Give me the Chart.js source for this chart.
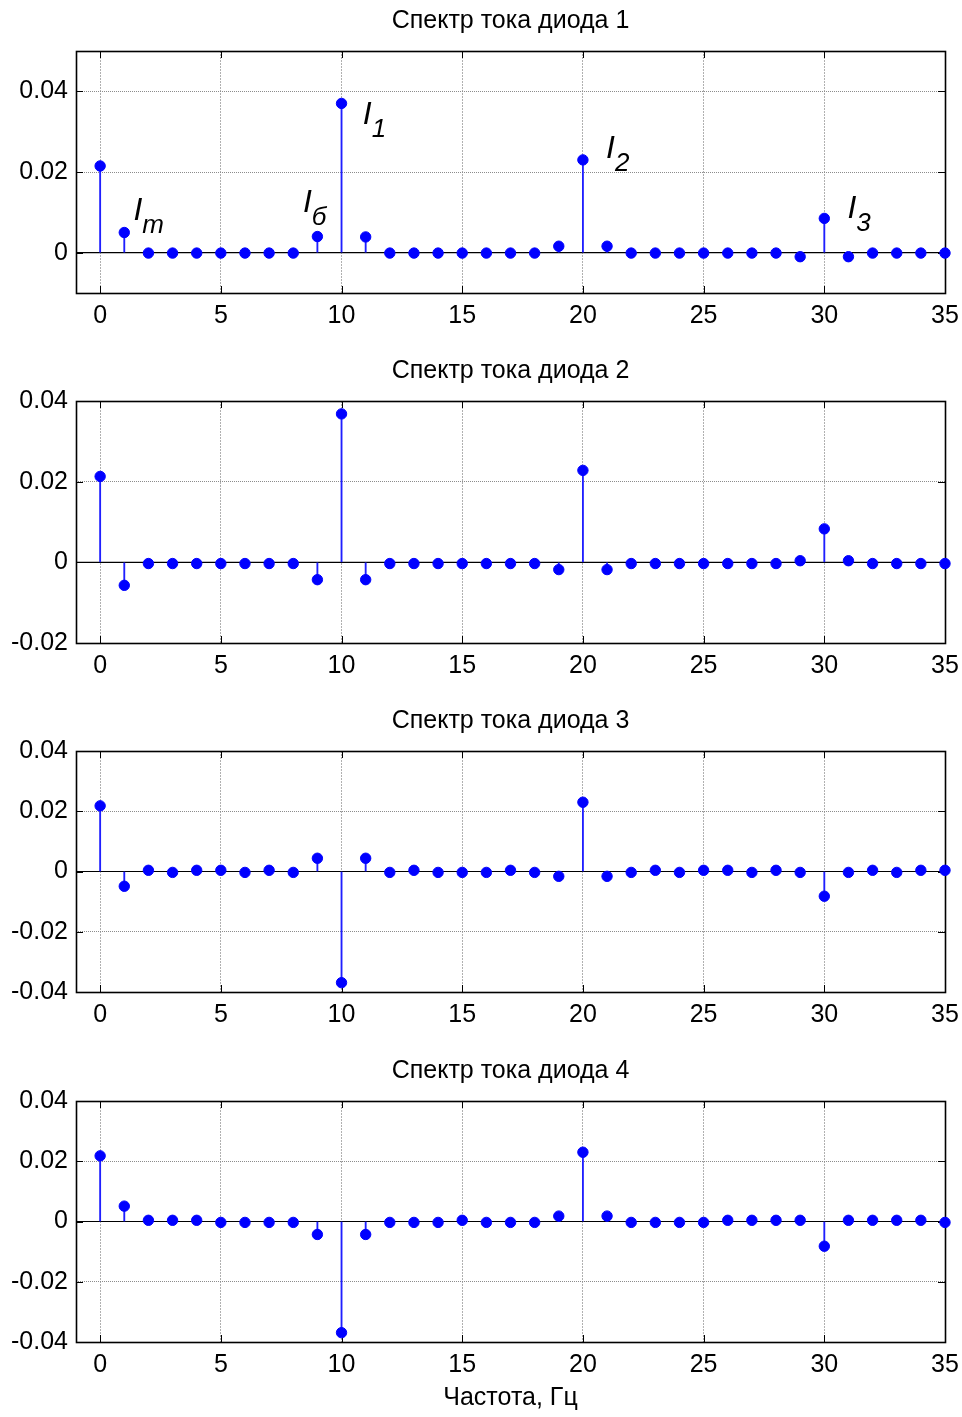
<!DOCTYPE html>
<html>
<head>
<meta charset="utf-8">
<script src="https://cdn.jsdelivr.net/npm/chart.js@4.4.1/dist/chart.umd.min.js"></script>
<style>
  body { margin: 0; background: #fff; width: 962px; height: 1417px; position: relative; overflow: hidden; }
  canvas { position: absolute; left: 0; display: block; }
</style>
</head>
<body>
<canvas id="diode1" width="962" height="340" style="top:0px"></canvas>
<canvas id="diode2" width="962" height="340" style="top:350px"></canvas>
<canvas id="diode3" width="962" height="340" style="top:700px"></canvas>
<canvas id="diode4" width="962" height="367" style="top:1050px"></canvas>
<script>
  // DATA (frequency in Hz, current spectrum amplitude)
  const freq = [0, 1, 2, 3, 4, 5, 6, 7, 8, 9, 10, 11, 12, 13, 14, 15, 16, 17,
                18, 19, 20, 21, 22, 23, 24, 25, 26, 27, 28, 29, 30, 31, 32, 33, 34, 35];

  const diode1 = [0.0215, 0.005, -0.0001, -0.0001, -0.0001, -0.0001, -0.0001, -0.0001, -0.0001,
                  0.004, 0.037, 0.0039, -0.0001, -0.0001, -0.0001, -0.0001, -0.0001, -0.0001, -0.0001,
                  0.0016, 0.023, 0.0016, -0.0001, -0.0001, -0.0001, -0.0001, -0.0001, -0.0001, -0.0001,
                  -0.001, 0.0085, -0.001, -0.0001, -0.0001, -0.0001, -0.0001];

  const diode2 = [0.0213, -0.0057, -0.0003, -0.0003, -0.0003, -0.0003, -0.0003, -0.0003, -0.0003,
                  -0.0043, 0.0368, -0.0043, -0.0003, -0.0003, -0.0003, -0.0003, -0.0003, -0.0003, -0.0003,
                  -0.0018, 0.0228, -0.0018, -0.0003, -0.0003, -0.0003, -0.0003, -0.0003, -0.0003, -0.0003,
                  0.0004, 0.0083, 0.0004, -0.0003, -0.0003, -0.0003, -0.0003];

  const diode3 = [0.0218, -0.0049, 0.0004, -0.0003, 0.0004, 0.0004, -0.0003, 0.0004, -0.0003,
                  0.0044, -0.0369, 0.0044, -0.0003, 0.0004, -0.0003, -0.0003, -0.0003, 0.0004, -0.0003,
                  -0.0016, 0.023, -0.0016, -0.0003, 0.0004, -0.0003, 0.0004, 0.0004, -0.0003, 0.0004,
                  -0.0003, -0.0082, -0.0003, 0.0004, -0.0003, 0.0004, 0.0004];

  const diode4 = [0.0218, 0.0051, 0.0004, 0.0004, 0.0004, -0.0003, -0.0003, -0.0003, -0.0003,
                  -0.0043, -0.0369, -0.0043, -0.0003, -0.0003, -0.0003, 0.0004, -0.0003, -0.0003, -0.0003,
                  0.0018, 0.023, 0.0018, -0.0003, -0.0003, -0.0003, -0.0003, 0.0004, 0.0004, 0.0004,
                  0.0004, -0.0082, 0.0004, 0.0004, 0.0004, 0.0004, -0.0003];

  const xTicks = [0, 5, 10, 15, 20, 25, 30, 35];
  const yTicks1 = [0, 0.02, 0.04];
  const yTicks2 = [-0.02, 0, 0.02, 0.04];
  const yTicks34 = [-0.04, -0.02, 0, 0.02, 0.04];

  const titles = ['Спектр тока диода 1', 'Спектр тока диода 2', 'Спектр тока диода 3', 'Спектр тока диода 4'];
  const xLabel = 'Частота, Гц';

  // harmonic labels on the first plot (data coordinates of the "I" baseline)
  const peakNames = ['I', 'I', 'I', 'I', 'I'];
  const peakSubs = ['m', 'б', '1', '2', '3'];
  const peakX = [1.38, 8.4, 10.88, 20.96, 30.96];
  const peakY = [0.0082, 0.01, 0.0318, 0.0235, 0.0085];

  const FONT = '"Liberation Sans", Arial, Helvetica, sans-serif';
  const BLUE = '#0000ff';

  // MATLAB-like box with inward ticks
  const boxPlugin = {
    id: 'matlabBox',
    beforeDatasetsDraw(chart) {
      const { ctx, chartArea: a, scales: { x, y } } = chart;
      ctx.save();
      ctx.strokeStyle = '#000';
      ctx.lineWidth = 1;
      ctx.beginPath();
      x.ticks.forEach(t => {
        const px = Math.round(x.getPixelForValue(t.value)) + 0.5;
        ctx.moveTo(px, a.top); ctx.lineTo(px, a.top + 7);
        ctx.moveTo(px, a.bottom); ctx.lineTo(px, a.bottom - 7);
      });
      y.ticks.forEach(t => {
        const py = Math.round(y.getPixelForValue(t.value)) + 0.5;
        ctx.moveTo(a.left, py); ctx.lineTo(a.left + 7, py);
        ctx.moveTo(a.right, py); ctx.lineTo(a.right - 7, py);
      });
      ctx.stroke();
      ctx.lineWidth = 1.6;
      ctx.strokeRect(Math.round(a.left) + 0.5, Math.round(a.top) + 0.5,
                     Math.round(a.right - a.left), Math.round(a.bottom - a.top));
      ctx.restore();
    }
  };

  const peakLabelPlugin = {
    id: 'peakLabels',
    afterDatasetsDraw(chart) {
      if (chart.canvas.id !== 'diode1') return;
      const { ctx, scales: { x, y } } = chart;
      ctx.save();
      ctx.fillStyle = '#000';
      ctx.textAlign = 'left';
      ctx.textBaseline = 'alphabetic';
      peakNames.forEach((name, i) => {
        const px = x.getPixelForValue(peakX[i]);
        const py = y.getPixelForValue(peakY[i]);
        ctx.font = 'italic 32px ' + FONT;
        ctx.fillText(name, px, py);
        const w = ctx.measureText(name).width;
        ctx.font = 'italic 26px ' + FONT;
        ctx.fillText(peakSubs[i], px + w, py + 13);
      });
      ctx.restore();
    }
  };

  const drawSpectrum = (id, values, yMin, yMax, yTicks, title, xHeight, showXLabel) => {
    const points = freq.map((f, i) => ({ x: f, y: values[i] }));
    const ctx = document.getElementById(id).getContext('2d');

    return new Chart(ctx, {
      type: 'scatter',
      data: {
        datasets: [
          {
            type: 'scatter',
            data: points,
            backgroundColor: BLUE,
            borderColor: BLUE,
            borderWidth: 1,
            pointRadius: 5.2,
            pointHoverRadius: 5.2,
            clip: false,
            order: 0,
          },
          {
            type: 'bar',
            data: points,
            backgroundColor: '#1f1fff',
            borderWidth: 0,
            barThickness: 1.2,
            order: 1,
          },
          {
            type: 'line',
            data: [{ x: -1, y: 0 }, { x: 35, y: 0 }],
            borderColor: '#000',
            borderWidth: 1.2,
            pointRadius: 0,
            showLine: true,
            order: 2,
          },
        ],
      },
      options: {
        responsive: false,
        animation: false,
        events: [],
        layout: { padding: { top: 0, left: 0, right: 17, bottom: 0 } },
        scales: {
          x: {
            type: 'linear',
            min: -1,
            max: 35,
            offset: false,
            afterBuildTicks: s => { s.ticks = xTicks.map(v => ({ value: v })); },
            afterFit: s => {
              s.height = xHeight;
              s.paddingLeft = 0;
              s.paddingRight = 0;
            },
            grid: { color: '#b0b0b0', drawTicks: false, offset: false, lineWidth: 1 },
            border: { display: false, dash: [2, 1] },
            ticks: {
              padding: 8.5,
              color: '#000',
              maxRotation: 0,
              autoSkip: false,
              font: { size: 25, family: FONT },
              callback: v => String(v),
            },
            title: {
              display: showXLabel,
              text: xLabel,
              color: '#000',
              font: { size: 25, family: FONT },
              padding: { top: 0, bottom: 4 },
            },
          },
          y: {
            type: 'linear',
            min: yMin,
            max: yMax,
            afterBuildTicks: s => { s.ticks = yTicks.map(v => ({ value: v })); },
            afterFit: s => { s.width = 76; },
            grid: { color: '#8c8c8c', drawTicks: false, lineWidth: 1 },
            border: { display: false, dash: [1, 1] },
            ticks: {
              padding: 8,
              color: '#000',
              font: { size: 25, family: FONT },
              callback: v => String(v),
            },
          },
        },
        plugins: {
          legend: { display: false },
          tooltip: { enabled: false },
          title: {
            display: true,
            text: title,
            fullSize: false,
            color: '#000',
            font: { size: 25, weight: 'normal', family: FONT },
            padding: { top: 6, bottom: 15 },
          },
        },
      },
      plugins: [boxPlugin, peakLabelPlugin],
    });
  };

  drawSpectrum('diode1', diode1, -0.01, 0.05, yTicks1, titles[0], 47, false);
  drawSpectrum('diode2', diode2, -0.02, 0.04, yTicks2, titles[1], 47, false);
  drawSpectrum('diode3', diode3, -0.04, 0.04, yTicks34, titles[2], 48, false);
  drawSpectrum('diode4', diode4, -0.04, 0.04, yTicks34, titles[3], 75, true);
</script>
</body>
</html>
